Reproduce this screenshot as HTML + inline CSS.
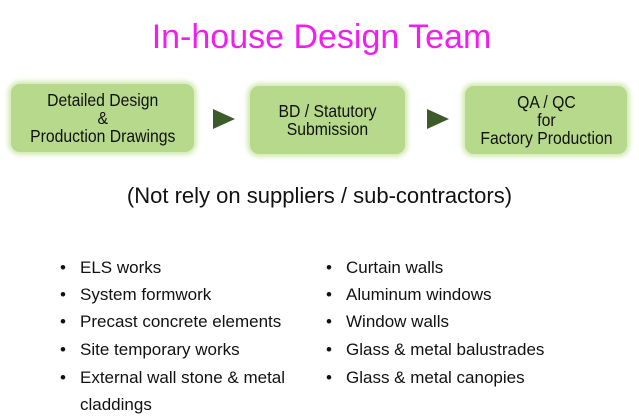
<!DOCTYPE html>
<html><head><style>
body{margin:0;width:639px;height:419px;background:#fff;position:relative;overflow:hidden;font-family:"Liberation Sans",sans-serif}
.t{position:absolute;white-space:nowrap}
.box{position:absolute;background:#b6d98c;border-radius:9px;box-shadow:0 0 5px 3px #d3ebb5;display:flex;align-items:center;justify-content:center;text-align:center;font-size:17.5px;line-height:18px;color:#111}
.box span{display:inline-block;transform:scaleX(0.9)}
.arr{position:absolute;width:0;height:0;border-top:10px solid transparent;border-bottom:10px solid transparent;border-left:22px solid #3c5a2a}
.li{position:absolute;font-size:17px;color:#111;white-space:nowrap}
.li:before{content:"•";position:absolute;left:-20px}
</style></head><body>
<div class="t" style="left:2px;width:639px;text-align:center;top:18px;font-size:34px;color:#f01ef0">In-house Design Team</div>
<div class="box" style="left:11px;top:84px;width:183px;height:68px"><span>Detailed Design<br>&amp;<br>Production Drawings</span></div>
<div class="arr" style="left:213px;top:109px"></div>
<div class="box" style="left:250px;top:86px;width:155px;height:68px"><span>BD / Statutory<br>Submission</span></div>
<div class="arr" style="left:427px;top:109px"></div>
<div class="box" style="left:465px;top:86px;width:162px;height:68px"><span>QA / QC<br>for<br>Factory Production</span></div>
<div class="t" style="left:0;width:639px;text-align:center;top:183px;font-size:22px;color:#111">(Not rely on suppliers / sub-contractors)</div>
<div class="li" style="left:80px;top:258px">ELS works</div>
<div class="li" style="left:80px;top:285px">System formwork</div>
<div class="li" style="left:80px;top:312px">Precast concrete elements</div>
<div class="li" style="left:80px;top:340px">Site temporary works</div>
<div class="li" style="left:80px;top:368px">External wall stone &amp; metal</div>
<div class="t" style="left:80px;top:395px;font-size:17px;color:#111">claddings</div>
<div class="li" style="left:346px;top:258px">Curtain walls</div>
<div class="li" style="left:346px;top:285px">Aluminum windows</div>
<div class="li" style="left:346px;top:312px">Window walls</div>
<div class="li" style="left:346px;top:340px">Glass &amp; metal balustrades</div>
<div class="li" style="left:346px;top:368px">Glass &amp; metal canopies</div>
</body></html>
